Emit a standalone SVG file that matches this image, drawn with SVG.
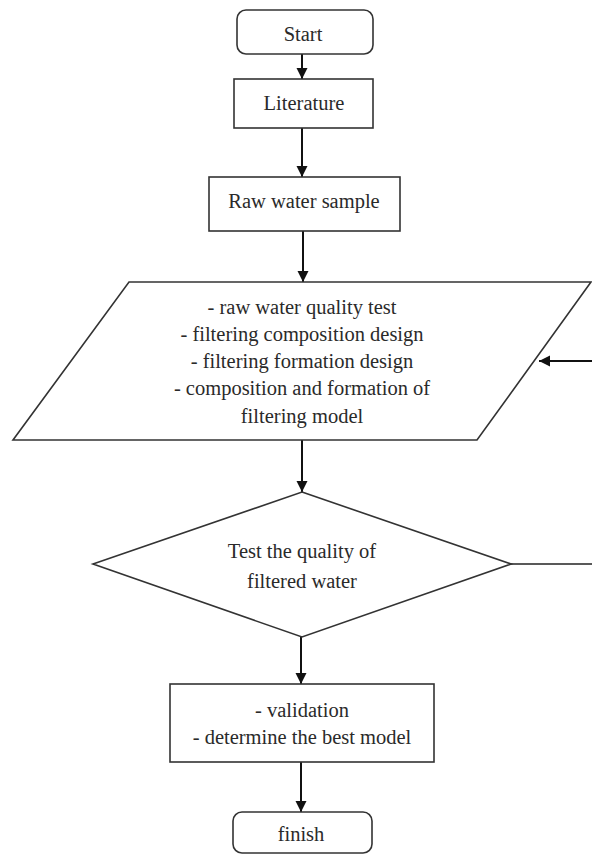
<svg xmlns="http://www.w3.org/2000/svg" width="592" height="854" viewBox="0 0 592 854">
<style>
.box{fill:#fff;stroke:#333;stroke-width:1.6}
.t{font-size:20.5px;fill:#2a2a2a;text-anchor:middle}
.c{fill:none;stroke:#111;stroke-width:2}
.c2{fill:none;stroke:#222;stroke-width:1.6}
</style>
<defs>
<marker id="ah" viewBox="0 0 10 10" refX="10" refY="5" markerWidth="5.5" markerHeight="6" markerUnits="strokeWidth" orient="auto">
<path d="M0,0 L10,5 L0,10 z" fill="#111"/>
</marker>
</defs>
<rect width="592" height="854" fill="#fff"/>
<g id="connectors">
<path class="c" d="M302,54 V79" marker-end="url(#ah)"/>
<path class="c" d="M302,128 V177" marker-end="url(#ah)"/>
<path class="c" d="M303,231 V282" marker-end="url(#ah)"/>
<path class="c" d="M302,440 V492" marker-end="url(#ah)"/>
<path class="c" d="M301,637 V684" marker-end="url(#ah)"/>
<path class="c" d="M301,762 V812" marker-end="url(#ah)"/>
<path class="c2" d="M511,564 H596"/>
<path class="c" d="M596,361 H539" marker-end="url(#ah)"/>
</g>
<g font-family="'Liberation Serif', 'DejaVu Serif', 'Times New Roman', serif">
<g id="start">
<rect class="box" x="237" y="10" width="136" height="44" rx="9"/>
<text class="t" x="303" y="41">Start</text>
</g>
<g id="literature">
<rect class="box" x="234" y="79" width="139" height="49"/>
<text class="t" x="304" y="110">Literature</text>
</g>
<g id="raw">
<rect class="box" x="209" y="177" width="191" height="54"/>
<text class="t" x="304" y="208">Raw water sample</text>
</g>
<g id="process">
<polygon class="box" points="129,282 591,282 477,440 13,440"/>
<text class="t" x="302" y="314">- raw water quality test</text>
<text class="t" x="302" y="341">- filtering composition design</text>
<text class="t" x="302" y="368">- filtering formation design</text>
<text class="t" x="302" y="395">- composition and formation of</text>
<text class="t" x="302" y="423">filtering model</text>
</g>
<g id="decision">
<polygon class="box" points="302,492 511,564 302,637 93,564"/>
<text class="t" x="302" y="558">Test the quality of</text>
<text class="t" x="302" y="588">filtered water</text>
</g>
<g id="validation">
<rect class="box" x="170" y="684" width="264" height="78"/>
<text class="t" x="302" y="717">- validation</text>
<text class="t" x="302" y="744">- determine the best model</text>
</g>
<g id="finish">
<rect class="box" x="233" y="812" width="139" height="41" rx="9"/>
<text class="t" x="301" y="841">finish</text>
</g>
</g>
</svg>
